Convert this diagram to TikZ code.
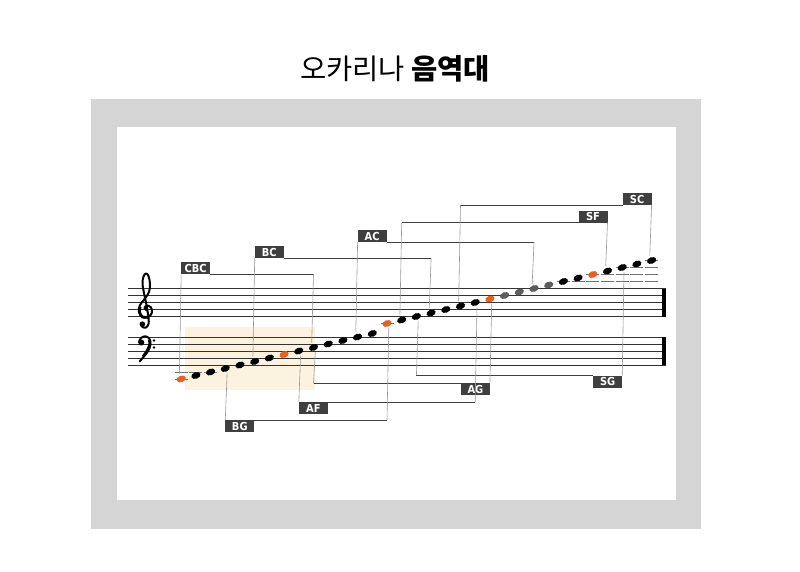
\documentclass[tikz,border=0pt]{standalone}
\usepackage{fontspec}
\setmainfont{Liberation Sans}
\newfontfamily\kr{Noto Sans CJK KR}
\newfontfamily\tagfont{DejaVu Sans Condensed}
\usetikzlibrary{positioning}
\usetikzlibrary{shapes.geometric}
\definecolor{frame}{HTML}{D6D5D6}
\definecolor{hilite}{HTML}{FCF2E0}
\definecolor{lowc}{HTML}{E8601C}
\definecolor{midgray}{HTML}{5C5C5C}
\definecolor{tagbg}{HTML}{3F3F3F}

\begin{document}
\begin{tikzpicture}
 [ x=1pt
 , y=-1pt
 , staff/.style={line width=0.9pt, black!80}
 , ledger/.style={line width=0.7pt, black!55}
 , head/.style={ellipse, minimum width=9.5pt, minimum height=6.5pt, inner sep=0pt, outer sep=2pt, rotate=20}
 , hrule/.style={line width=0.8pt, black!75}
 , vrule/.style={line width=0.6pt, black!40}
 , clef/.style={line width=2pt, line cap=round, line join=round}
 , tag/.style={fill=tagbg, text=white, font=\tagfont\bfseries\fontsize{11}{11}\selectfont, minimum width=29pt, minimum height=12pt, inner sep=0pt, outer sep=0pt}
 ]
  \useasboundingbox (0,0) rectangle (800,572);
  \node [font=\kr\fontsize{28.5}{28.5}\selectfont] (title) at (395,69) {오카리나 \textbf{음역대}};
  \fill [frame] (91,99) rectangle (701,529);
  \fill [white] (116.7,126.7) rectangle (675.7,500);
  \fill [hilite] (185,327.3) rectangle (315,390);
  % staves
  \foreach \y in {288.5,295.5,302.5,309.5,316.5,337,344,351,358,365}
    \draw [staff] (128,\y) -- (666,\y);
  \draw [line width=3.5pt] (664,288.5) -- (664,316.5);
  \draw [line width=3.5pt] (664,337) -- (664,365);
  % treble clef
  \draw [clef] plot [smooth, tension=0.6] coordinates
    { (147,310.5) (144.5,308) (147,305.5) (151,307.5) (152,312.5) (148.5,317)
      (142.5,317) (139,312) (140,305) (145,298.5) (149,292) (150,284)
      (148.5,276) (146,273.5) (143.5,276.5) (142.5,284) (144,293) (146.5,305)
      (148.5,318) (148.5,324) (146,327.5) (142.5,327) (141,324.5) };
  \draw [line width=2.8pt] plot [smooth, tension=0.6] coordinates
    { (140.2,307) (139.5,312) (142.5,317) (148.5,317) };
  \fill (142.3,324.2) circle (2.8);
  % bass clef
  \fill (141.3,342.5) circle (3);
  \draw [clef] plot [smooth, tension=0.6] coordinates
    { (139,342) (141,338) (145.5,336.3) (149.5,339) (150.5,344.5) (147.5,352) (139.5,361.5) };
  \draw [line width=2.8pt] plot [smooth, tension=0.6] coordinates
    { (149.3,340) (149.8,344.5) (147,351) (143,356.5) };
  \fill (154,340.5) circle (1.4);
  \fill (154,347.5) circle (1.4);
  % ledger lines
  \foreach \i in {0,1,2}
    \draw [ledger] ({174.7+14.7*\i},372) -- +(13,0);
  \draw [ledger] (174.7,379) -- +(13,0);
  \draw [ledger] ({174.7+14.7*14},323.5) -- +(13,0);
  \foreach \i in {26,...,32}
    \draw [ledger] ({174.7+14.7*\i},281.5) -- +(13,0);
  \foreach \i in {28,...,32}
    \draw [ledger] ({174.7+14.7*\i},274.5) -- +(13,0);
  \foreach \i in {30,31,32}
    \draw [ledger] ({174.7+14.7*\i},267.5) -- +(13,0);
  \draw [ledger] ({174.7+14.7*32},260.5) -- +(13,0);
  % notes
  \foreach \i in {0,...,32}
  {
    \pgfmathsetmacro\ny{\i<14 ? 365-3.5*(\i-4) : 316.5-3.5*(\i-16)}
    \def\nc{black}
    \ifnum\i>21 \ifnum\i<26 \def\nc{midgray}\fi\fi
    \pgfmathtruncatemacro\m{mod(\i,7)}
    \ifnum\m=0 \def\nc{lowc}\fi
    \node [head, fill=\nc] (n\i) at ({181.2+14.7*\i},\ny) {};
  }
  % ranges above
  \node [tag, anchor=south west] (cbc) at (n0 |- 0,274.3) {CBC};
  \draw [vrule] (n0.north) -- (cbc.south west);
  \draw [hrule] (cbc.south east) -- (cbc.south east -| n9);
  \draw [vrule] (cbc.south east -| n9) -- (n9.north);
  \node [tag, anchor=south west] (bc) at (n5 |- 0,258) {BC};
  \draw [vrule] (n5.north) -- (bc.south west);
  \draw [hrule] (bc.south east) -- (bc.south east -| n17);
  \draw [vrule] (bc.south east -| n17) -- (n17.north);
  \node [tag, anchor=south west] (ac) at (n12 |- 0,242) {AC};
  \draw [vrule] (n12.north) -- (ac.south west);
  \draw [hrule] (ac.south east) -- (ac.south east -| n24);
  \draw [vrule] (ac.south east -| n24) -- (n24.north);
  \node [tag, anchor=south east] (sf) at (n29 |- 0,222.7) {SF};
  \draw [vrule] (n15.north) -- (n15 |- sf.south);
  \draw [hrule] (n15 |- sf.south) -- (sf.south west);
  \draw [vrule] (sf.south east) -- (n29.north);
  \node [tag, anchor=south east] (sc) at (n32 |- 0,205) {SC};
  \draw [vrule] (n19.north) -- (n19 |- sc.south);
  \draw [hrule] (n19 |- sc.south) -- (sc.south west);
  \draw [vrule] (sc.south east) -- (n32.north);
  % ranges below
  \node [tag, anchor=north east] (sg) at (n30 |- 0,375.7) {SG};
  \draw [vrule] (n16.south) -- (n16 |- sg.north);
  \draw [hrule] (n16 |- sg.north) -- (sg.north west);
  \draw [vrule] (sg.north east) -- (n30.south);
  \node [tag, anchor=north east] (ag) at (n21 |- 0,383.3) {AG};
  \draw [vrule] (n9.south) -- (n9 |- ag.north);
  \draw [hrule] (n9 |- ag.north) -- (ag.north west);
  \draw [vrule] (ag.north east) -- (n21.south);
  \node [tag, anchor=north west] (af) at (n8 |- 0,402) {AF};
  \draw [vrule] (n8.south) -- (af.north west);
  \draw [hrule] (af.north east) -- (af.north east -| n20);
  \draw [vrule] (af.north east -| n20) -- (n20.south);
  \node [tag, anchor=north west] (bg) at (n3 |- 0,420) {BG};
  \draw [vrule] (n3.south) -- (bg.north west);
  \draw [hrule] (bg.north east) -- (bg.north east -| n14);
  \draw [vrule] (bg.north east -| n14) -- (n14.south);
\end{tikzpicture}
\end{document}
